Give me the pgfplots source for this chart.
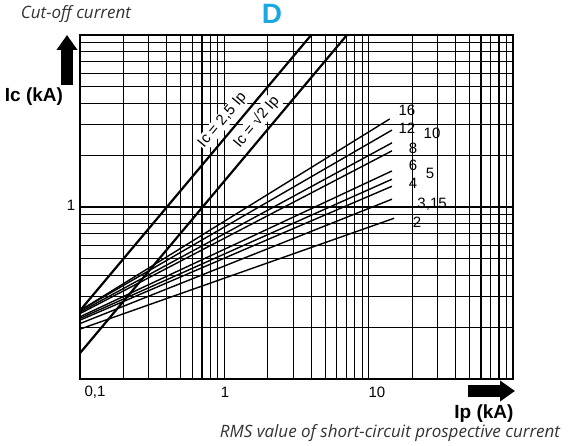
\documentclass[border=0pt]{standalone}
\usepackage{fontspec}
\setmainfont{Liberation Sans}
\newfontfamily\capfont{Open Sans}
\usepackage{pgfplots}
\pgfplotsset{compat=1.18}
\usetikzlibrary{arrows.meta}
\definecolor{dblue}{RGB}{27,167,225}

\begin{document}
\begin{tikzpicture}[x=1pt,y=1pt]
\begin{axis}[
  at={(0,0)}, anchor=south west,
  scale only axis, width=433pt, height=344pt,
  xmode=log, ymode=log,
  xmin=0.1, xmax=100, ymin=0.1, ymax=10,
  xtick={0.1,1,10,100}, ytick={0.1,1,10},
  xticklabels={,,,}, yticklabels={,,},
  grid=both,
  major grid style={black, line width=1.1pt},
  minor grid style={black, line width=1.1pt},
  major tick length=0pt, minor tick length=0pt,
  axis line style={black, line width=1.8pt},
]
% Ic = 2,5 Ip and Ic = sqrt2 Ip
\addplot[black, line width=2.2pt] coordinates {(0.1,0.25) (4,10)}
  node[pos=0.66, sloped, above=4pt, font=\fontsize{15}{15}\selectfont, fill=white, inner sep=1pt] {Ic = 2,5 Ip};
\addplot[black, line width=2.2pt] coordinates {(0.1,0.1414) (7.07,10)}
  node[pos=0.70, sloped, above=4pt, font=\fontsize{15}{15}\selectfont, fill=white, inner sep=1pt] {Ic = √2 Ip};
% cut-off characteristics, one line per rating
\addplot[black, line width=1.4pt] coordinates {(0.1,0.25) (14,3.25)};   % 16
\addplot[black, line width=1.4pt] coordinates {(0.1,0.25) (14.5,2.80)}; % 12
\addplot[black, line width=1.4pt] coordinates {(0.1,0.245) (14.5,2.36)};% 10
\addplot[black, line width=1.4pt] coordinates {(0.1,0.24) (14.5,2.12)}; % 8
\addplot[black, line width=1.4pt] coordinates {(0.1,0.23) (14.5,1.62)}; % 6
\addplot[black, line width=1.4pt] coordinates {(0.1,0.225) (14.5,1.45)};% 5
\addplot[black, line width=1.4pt] coordinates {(0.1,0.22) (14.5,1.32)}; % 4
\addplot[black, line width=1.4pt] coordinates {(0.1,0.21) (14.5,1.11)}; % 3
\addplot[black, line width=1.4pt] coordinates {(0.1,0.195) (15,0.86)};  % 2
\end{axis}

\path[use as bounding box] (-80,-67) rectangle (488,379);

\begin{scope}[every node/.style={font=\fontsize{15}{15}\selectfont, inner sep=0pt}]
\node at (327,269) {16};
\node at (327,251) {12};
\node at (352,246) {10};
\node at (333,231) {8};
\node at (333,214) {6};
\node at (350,206) {5};
\node at (333,196) {4};
\node at (350,175) {.3,15};
\node at (337,157) {2};
\node at (15,-13) {0,1};
\node at (145,-13) {1};
\node at (297,-13) {10};
\node at (-9,174) {1};
\end{scope}

\draw[line width=12pt, -{Triangle[width=20pt,length=15pt]}] (-13,294) -- (-13,344);
\draw[line width=12pt, -{Triangle[width=20pt,length=15pt]}] (388,-12) -- (435,-12);
\node[font=\fontsize{19}{19}\selectfont\bfseries] at (-46,282) {Ic (kA)};
\node[font=\fontsize{19}{19}\selectfont\bfseries] at (404,-35) {Ip (kA)};
\node[font=\fontsize{17}{17}\selectfont\capfont\itshape, text=black!80] at (310,-54) {RMS value of short-circuit prospective current};
\node[font=\fontsize{17}{17}\selectfont\capfont\itshape, text=black!80] at (-4,365) {Cut-off current};
\node[font=\fontsize{28}{28}\selectfont\bfseries, text=dblue] at (192,365) {D};
\end{tikzpicture}
\end{document}
